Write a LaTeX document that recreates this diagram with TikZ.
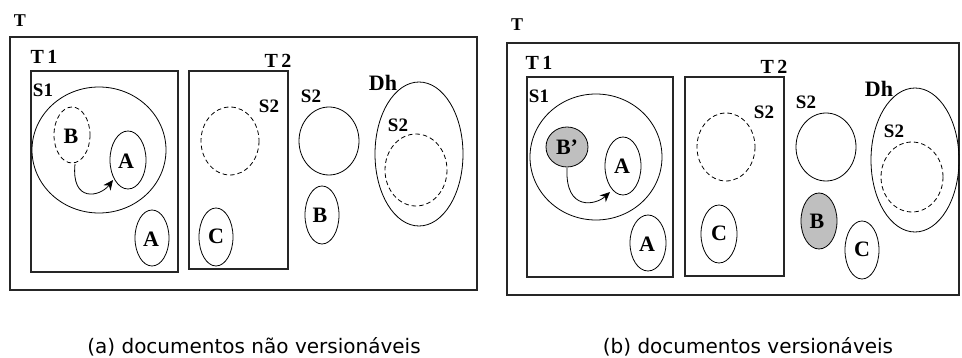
\documentclass[tikz,border=0pt]{standalone}
\usepackage{fontspec}
\setmainfont{Liberation Serif}
\newfontfamily\capfont{DejaVu Sans}
\usetikzlibrary{arrows.meta}
\tikzset{
  frame/.style={draw=black!85, line width=1.3pt},
  box/.style={draw=black!85, line width=1.1pt},
  ring/.style={draw=black, line width=0.8pt},
  dring/.style={draw=black, line width=0.8pt, dash pattern=on 4.5pt off 3pt},
  tlbl/.style={font=\bfseries\fontsize{18}{18}\selectfont, inner sep=0pt},
  lbl/.style={font=\bfseries\fontsize{20}{20}\selectfont, inner sep=0pt},
  slbl/.style={font=\bfseries\fontsize{19}{19}\selectfont, inner sep=0pt},
  elbl/.style={font=\bfseries\fontsize{22}{22}\selectfont, inner sep=0pt},
  dlbl/.style={font=\bfseries\fontsize{22}{22}\selectfont, inner sep=0pt},
  captext/.style={font=\capfont\fontsize{20}{20}\selectfont, inner sep=0pt},
  shade/.style={fill=black!25},
  arr/.style={draw=black, line width=0.8pt, -{Stealth[length=10pt,width=9pt]}}
}
\begin{document}
\begin{tikzpicture}[x=1pt,y=-1pt]
\useasboundingbox (0,0) rectangle (962,358);
% ---------- panel (a) ----------
\node[tlbl] (aT) at (20,20.5) {T};
\draw[frame] (10,37) rectangle (477,290);
\node[lbl] (aT1) at (44,57) {T\,1};
\draw[box] (31,71) rectangle (178,272);
\node[lbl] (aT2) at (278,61) {T\,2};
\draw[box] (189,71) rectangle (288,269);
\node[slbl] (aS1) at (43,90) {S1};
\draw[ring] (99,150) ellipse (67 and 63);
\draw[dring] (72,135) ellipse (18 and 28);
\node[elbl] (aB) at (71,136) {B};
\draw[ring] (128,160) ellipse (18 and 29);
\node[elbl] (aA) at (126,161) {A};
\coordinate (aBs) at (75,164);
\coordinate (aAe) at (113,180);
\draw[arr] (aBs) .. controls (71,203) and (100,197) .. (aAe);
\draw[ring] (152,238) ellipse (17 and 28);
\node[elbl] (aA2) at (151,239) {A};
\node[slbl] (aS2a) at (269,106) {S2};
\draw[dring] (230,141) ellipse (29 and 34);
\draw[ring] (216,237) ellipse (17 and 29);
\node[elbl] (aC) at (216,236) {C};
\node[slbl] (aS2b) at (311,96) {S2};
\draw[ring] (329,141) ellipse (30 and 34);
\draw[ring] (322,215) ellipse (17 and 29);
\node[elbl] (aB2) at (320,215) {B};
\node[dlbl] (aDh) at (383,83) {Dh};
\draw[ring] (419,154) ellipse (44 and 72);
\node[slbl] (aS2c) at (398,125) {S2};
\draw[dring] (416,170) ellipse (31 and 36);
\node[captext] (capa) at (254,347) {(a) documentos não versionáveis};
% ---------- panel (b) ----------
\node[tlbl] (bT) at (517,25) {T};
\draw[frame] (507,43) rectangle (959,295);
\node[lbl] (bT1) at (539,63) {T\,1};
\draw[box] (527,77) rectangle (673,277);
\node[lbl] (bT2) at (774,67) {T\,2};
\draw[box] (685,77) rectangle (784,276);
\node[slbl] (bS1) at (539,96) {S1};
\draw[ring] (596,157) ellipse (66 and 63);
\draw[ring,shade] (567,147) ellipse (21 and 20);
\node[elbl] (bBp) at (567,147) {B'};
\draw[ring] (623,166) ellipse (18 and 29);
\node[elbl] (bA) at (622,166) {A};
\coordinate (bBs) at (567,168);
\coordinate (bAe) at (610,192);
\draw[arr] (bBs) .. controls (565,212) and (596,205) .. (bAe);
\draw[ring] (648,243) ellipse (18 and 28);
\node[elbl] (bA2) at (647,244) {A};
\node[slbl] (bS2a) at (764,112) {S2};
\draw[dring] (726,147) ellipse (29 and 34);
\draw[ring] (719,234) ellipse (18 and 29);
\node[elbl] (bC) at (719,233) {C};
\node[slbl] (bS2b) at (806,102) {S2};
\draw[ring] (826,147) ellipse (30 and 34);
\draw[ring,shade] (819,221) ellipse (18 and 28);
\node[elbl] (bB2) at (817,221) {B};
\draw[ring] (862,250) ellipse (17 and 29);
\node[elbl] (bC2) at (862,249) {C};
\node[dlbl] (bDh) at (879,89) {Dh};
\draw[ring] (915,160) ellipse (44 and 72);
\node[slbl] (bS2c) at (894,131) {S2};
\draw[dring] (912,177) ellipse (31 and 35);
\node[captext] (capb) at (748,347) {(b) documentos versionáveis};
\end{tikzpicture}
\end{document}
